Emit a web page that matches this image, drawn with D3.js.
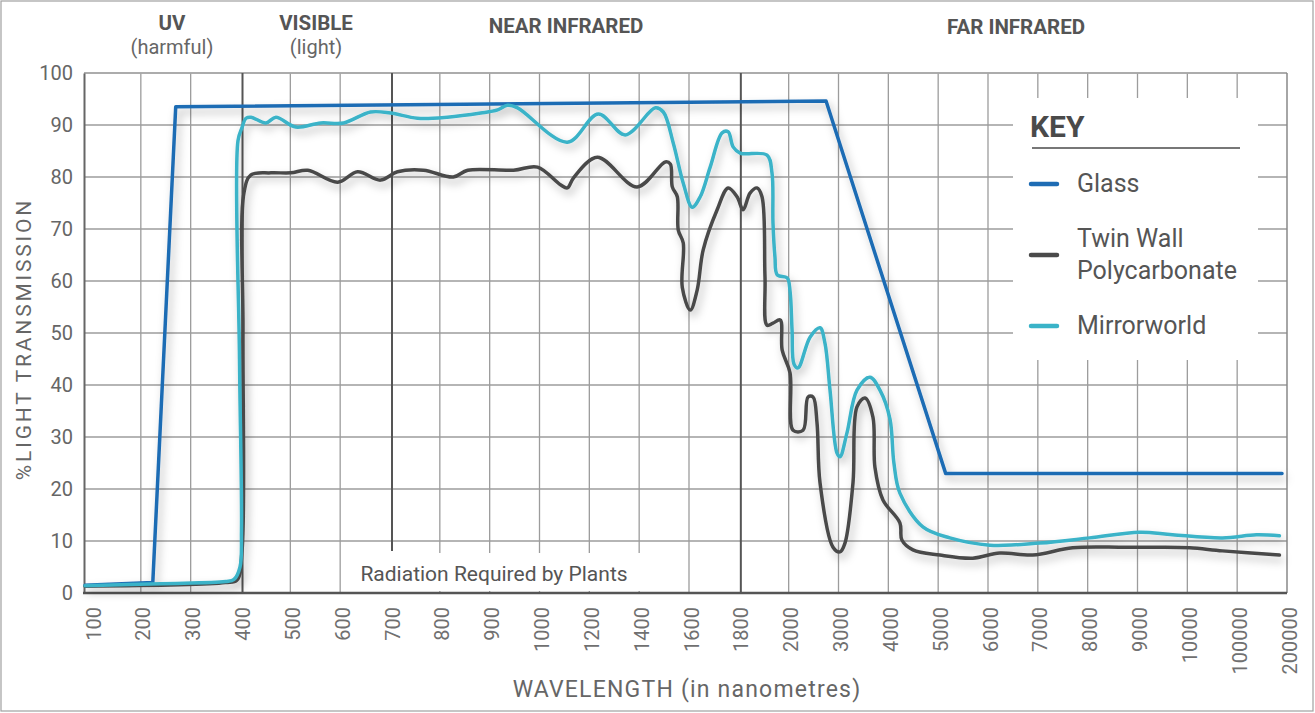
<!DOCTYPE html>
<html>
<head>
<meta charset="utf-8">
<script src="https://cdn.jsdelivr.net/npm/d3@7"></script>
<style>
  body { margin: 0; background: #fff; }
  svg { display: block; font-family: Roboto, "Open Sans", sans-serif; }
</style>
</head>
<body>
<svg id="chart" width="1315" height="713"></svg>
<script>
// wavelength ticks along the bottom (not evenly spaced values, evenly spaced positions)
const wavelengths = [100, 200, 300, 400, 500, 600, 700, 800, 900, 1000, 1200, 1400, 1600, 1800,
	2000, 3000, 4000, 5000, 6000, 7000, 8000, 9000, 10000, 100000, 200000];
const yTicks = [0, 10, 20, 30, 40, 50, 60, 70, 80, 90, 100];
const bandEdges = [400, 700, 1800];

// [wavelength nm, % transmission]
const glass = [[88, 1.5], [224, 2], [270, 93.5], [2750, 94.6], [5150, 23], [190000, 23]];

const twinWall = [[88, 1.3], [370, 2.0], [393, 2.5], [403, 8], [405, 50], [407, 77], [421, 80.4],
	[461, 80.8], [501, 80.8], [535, 81.3], [595, 79], [635, 81], [681, 79.4], [715, 81], [767, 81.3],
	[827, 80], [856, 81.3], [948, 81.3], [996, 81.9], [1084, 78.5], [1112, 77.9], [1136, 79.8],
	[1232, 83.8], [1392, 78.1], [1505, 82.9], [1525, 82.5], [1533, 78.1], [1553, 76.2], [1557, 69.8],
	[1577, 67.3], [1573, 58.8], [1605, 54.4], [1633, 58.3], [1657, 66], [1713, 73.7], [1757, 77.9],
	[1793, 76.2], [1817, 73.7], [1845, 76.9], [1873, 77.9], [1893, 76.2], [1905, 60.8], [1913, 51.5],
	[1937, 51.9], [1966, 52.5], [1974, 46.7], [2028, 42.3], [2088, 31.3], [2289, 31.3], [2389, 37.7],
	[2489, 37.7], [2569, 32.7], [2629, 21.2], [2890, 8.8], [3030, 7.9], [3130, 9.6], [3291, 21.2],
	[3371, 35.8], [3531, 37.5], [3691, 33.8], [3731, 24.2], [3892, 17.9], [4232, 13.5], [4272, 10.2],
	[4493, 8.3], [5034, 7.3], [5695, 6.7], [6236, 7.7], [6898, 7.3], [7699, 8.7], [8701, 8.8],
	[9383, 8.8], [13960, 8.7], [73450, 8.1], [184800, 7.3]];

const mirrorworld = [[88, 1.4], [240, 1.8], [370, 2.2], [387, 2.6], [399, 5], [402, 12], [398, 45],
	[395, 87], [403, 89.5], [411, 91.3], [421, 91.5], [451, 90.4], [471, 91.5], [511, 89.6], [561, 90.4],
	[607, 90.4], [661, 92.5], [701, 92.3], [755, 91.3], [815, 91.5], [882, 92.3], [916, 92.9], [936, 93.8],
	[956, 93.3], [1112, 86.7], [1236, 92.1], [1344, 88.1], [1465, 93.3], [1497, 92.5], [1537, 86.5],
	[1577, 78.8], [1613, 74.2], [1645, 76.2], [1685, 81.9], [1733, 88.5], [1757, 88.7], [1777, 85.8],
	[1805, 84.6], [1913, 84.2], [1933, 80.8], [1937, 71.2], [1945, 64.6], [1954, 61.2], [1994, 60.6],
	[2028, 58], [2068, 50.6], [2108, 44], [2188, 43.3], [2429, 49.2], [2629, 51], [2729, 48], [2830, 39],
	[2970, 26.9], [3030, 26.2], [3170, 30.8], [3371, 39], [3631, 41.5], [3832, 39], [4032, 33.5],
	[4112, 25], [4232, 19.2], [4693, 12.7], [5234, 10.6], [6036, 9.2], [7038, 9.6], [8040, 10.6],
	[9042, 11.7], [9703, 11.2], [73450, 10.6], [138700, 11.2], [184800, 11.0]];

const series = [
	{ name: 'Glass', data: glass, color: '#1e6cb4', curve: d3.curveLinear },
	{ name: 'Twin Wall|Polycarbonate', data: twinWall, color: '#4a4a4a', curve: d3.curveCatmullRom.alpha(0.5) },
	{ name: 'Mirrorworld', data: mirrorworld, color: '#3ab3c8', curve: d3.curveCatmullRom.alpha(0.5) }
];

const bands = [
	{ label: 'UV', sub: '(harmful)', at: 172, y: 30 },
	{ label: 'VISIBLE', sub: '(light)', at: 316, y: 30 },
	{ label: 'NEAR INFRARED', sub: null, at: 566, y: 33 },
	{ label: 'FAR INFRARED', sub: null, at: 1016, y: 34 }
];

const plotLeft = 84, plotRight = 1287, plotTop = 73, plotBottom = 593;
const firstTick = 91;
const step = (plotRight - firstTick) / (wavelengths.length - 1);

const svg = d3.select('#chart');

const x = d3.scaleLinear()
	.domain(wavelengths)
	.range(wavelengths.map((d, i) => firstTick + i * step));
const y = d3.scaleLinear().domain([0, 100]).range([plotBottom, plotTop]);

// outer border
svg.append('rect')
	.attr('x', 1).attr('y', 1).attr('width', 1312).attr('height', 710)
	.attr('fill', 'none').attr('stroke', '#a0a0a0').attr('stroke-width', 1.2);

const defs = svg.append('defs');
defs.append('filter')
	.attr('id', 'shadow')
	.attr('x', '-5%').attr('y', '-5%').attr('width', '110%').attr('height', '120%')
	.append('feDropShadow')
	.attr('dx', 3).attr('dy', 5).attr('stdDeviation', 4)
	.attr('flood-color', '#000').attr('flood-opacity', 0.28);

// grid
const grid = svg.append('g');
grid.selectAll('line.h')
	.data(yTicks.slice(1))
	.join('line')
	.attr('x1', plotLeft).attr('x2', plotRight)
	.attr('y1', d => y(d)).attr('y2', d => y(d))
	.attr('stroke', '#9c9c9c').attr('stroke-width', 1.3);
grid.selectAll('line.v')
	.data(wavelengths.slice(1, -1).filter(d => !bandEdges.includes(d)))
	.join('line')
	.attr('x1', d => x(d)).attr('x2', d => x(d))
	.attr('y1', plotTop).attr('y2', plotBottom)
	.attr('stroke', '#9c9c9c').attr('stroke-width', 1.3);

// plot frame
grid.append('line').attr('x1', plotLeft).attr('x2', plotRight).attr('y1', plotTop).attr('y2', plotTop)
	.attr('stroke', '#aaa').attr('stroke-width', 1.3);
grid.append('line').attr('x1', plotRight).attr('x2', plotRight).attr('y1', plotTop).attr('y2', plotBottom)
	.attr('stroke', '#888').attr('stroke-width', 1.5);

// legend panel and plants label hide the grid below them
svg.append('rect').attr('x', 1013).attr('y', 98).attr('width', 245).attr('height', 262).attr('fill', '#fff');
svg.append('rect').attr('x', 348).attr('y', 553).attr('width', 292).attr('height', 38).attr('fill', '#fff');

// band separators
svg.append('g').selectAll('line')
	.data(bandEdges)
	.join('line')
	.attr('x1', d => x(d) + 2).attr('x2', d => x(d) + 2)
	.attr('y1', plotTop).attr('y2', d => d === 700 ? 551 : plotBottom)
	.attr('stroke', '#555').attr('stroke-width', 2);

svg.append('text')
	.attr('x', 494).attr('y', 581)
	.attr('text-anchor', 'middle')
	.attr('font-size', 21).attr('fill', '#555')
	.text('Radiation Required by Plants');

// axes
const yAxis = svg.append('g')
	.attr('transform', `translate(${plotLeft},0)`)
	.call(d3.axisLeft(y).tickValues(yTicks).tickSize(0).tickPadding(11));
yAxis.select('.domain').attr('stroke', '#666').attr('stroke-width', 2);
yAxis.selectAll('text').attr('font-size', 20).attr('fill', '#666').attr('font-family', 'Roboto');

const xAxis = svg.append('g')
	.attr('transform', `translate(0,${plotBottom})`)
	.call(d3.axisBottom(x).tickValues(wavelengths).tickSize(0).tickFormat(d => String(d)));
xAxis.select('.domain').remove();
xAxis.selectAll('text')
	.attr('transform', 'rotate(-90)')
	.attr('x', -14).attr('y', 2).attr('dy', '0.35em')
	.attr('text-anchor', 'end')
	.attr('font-size', 20).attr('fill', '#707070').attr('font-family', 'Roboto');
svg.append('line').attr('x1', plotLeft - 1).attr('x2', plotRight).attr('y1', plotBottom).attr('y2', plotBottom)
	.attr('stroke', '#555').attr('stroke-width', 2.5);

// axis titles
svg.append('text')
	.attr('transform', 'translate(31,339) rotate(-90)')
	.attr('text-anchor', 'middle')
	.attr('font-size', 21).attr('letter-spacing', 2.8).attr('fill', '#666')
	.text('%LIGHT TRANSMISSION');
svg.append('text')
	.attr('x', 687).attr('y', 697)
	.attr('text-anchor', 'middle')
	.attr('font-size', 23).attr('letter-spacing', 1.2).attr('fill', '#666')
	.text('WAVELENGTH (in nanometres)');

// band headers
const head = svg.append('g').selectAll('g').data(bands).join('g');
head.append('text')
	.attr('x', d => d.at).attr('y', d => d.y)
	.attr('text-anchor', 'middle')
	.attr('font-size', 20.5).attr('font-weight', 'bold').attr('fill', '#555')
	.text(d => d.label);
head.filter(d => d.sub).append('text')
	.attr('x', d => d.at).attr('y', 54)
	.attr('text-anchor', 'middle')
	.attr('font-size', 20).attr('fill', '#666')
	.text(d => d.sub);

// lines
const lineGen = d3.line().x(d => x(d[0])).y(d => y(d[1]));
svg.append('g')
	.attr('filter', 'url(#shadow)')
	.selectAll('path')
	.data(series)
	.join('path')
	.attr('d', d => lineGen.curve(d.curve)(d.data))
	.attr('fill', 'none')
	.attr('stroke', d => d.color)
	.attr('stroke-width', 3.5)
	.attr('stroke-linejoin', 'round')
	.attr('stroke-linecap', 'round');

// legend
const key = svg.append('g');
key.append('text').attr('x', 1030).attr('y', 137)
	.attr('font-size', 30).attr('font-weight', 'bold').attr('fill', '#4a4a4a').text('KEY');
key.append('line').attr('x1', 1032).attr('x2', 1240).attr('y1', 148).attr('y2', 148)
	.attr('stroke', '#777').attr('stroke-width', 2);
const rowY = [184, 255, 326];
const item = key.selectAll('g.item').data(series).join('g')
	.attr('transform', (d, i) => `translate(0,${rowY[i]})`);
item.append('line').attr('x1', 1031).attr('x2', 1057)
	.attr('stroke', d => d.color).attr('stroke-width', 4.5).attr('stroke-linecap', 'round');
item.each(function (d) {
	const lines = d.name.split('|');
	const t = d3.select(this).append('text')
		.attr('x', 1077).attr('font-size', 25).attr('fill', '#555');
	lines.forEach((s, i) => {
		t.append('tspan').attr('x', 1077)
			.attr('y', 8 + (i - (lines.length - 1) / 2) * 32)
			.text(s);
	});
});
</script>
</body>
</html>
